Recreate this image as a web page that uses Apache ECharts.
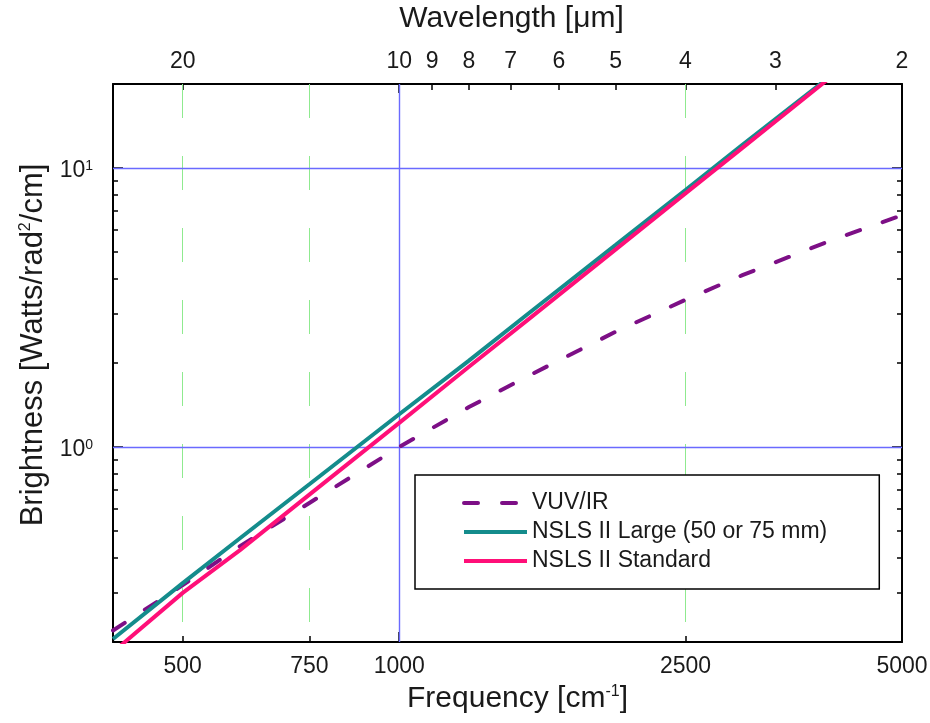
<!DOCTYPE html>
<html>
<head>
<meta charset="utf-8">
<title>Brightness vs frequency</title>
<script src="https://cdn.jsdelivr.net/npm/echarts@6/dist/echarts.min.js"></script>
<style>
  html, body { margin: 0; padding: 0; background: #fff; }
  #main { width: 930px; height: 723px; }
</style>
</head>
<body>
<div id="main"></div>
<script>
// frequency samples [cm^-1]
const freq = [400, 500, 600, 750, 1000, 1250, 1500, 2000, 2500, 3000, 4000, 5000]
// brightness [W/rad^2/cm]
const vuvIr = [0.22, 0.32, 0.44, 0.63, 1.0, 1.39, 1.78, 2.59, 3.37, 4.13, 5.52, 6.77]
const nslsLarge = [0.205, 0.325, 0.47, 0.735, 1.31, 2.04, 2.96, 5.3, 8.34, 12.1, 21.6, null]
const nslsStandard = [0.184, 0.30, 0.426, 0.675, 1.22, 1.94, 2.82, 5.11, 8.11, 11.8, 21.4, null]

// axis ticks
const freqLabels = [500, 750, 1000, 2500, 5000]
const freqMinorTicks = [500, 750, 2500, 5000]
const wavelengthLabels = [20, 10, 9, 8, 7, 6, 5, 4, 3, 2] // um
const brightnessMajor = [1, 10]
const brightnessMinor = [0.3, 0.4, 0.5, 0.6, 0.7, 0.8, 0.9, 2, 3, 4, 5, 6, 7, 8, 9]

// grid lines
const greenLinesX = [500, 750, 2500]
const blueLinesX = [1000]
const blueLinesY = [1, 10]

const xMin = 400
const xMax = 5000
const yMin = 0.2
const yMax = 20

const font = 'Liberation Sans, Arial, sans-serif'
const textColor = '#1a1a1a'
const colors = {
  vuv: '#7d0f86',
  large: '#148c8c',
  standard: '#ff0f78',
  green: '#8fea8f',
  blue: '#6a6aff'
}

function wlToFreq (wl) {
  return 10000 / wl
}

function tickStyle (len) {
  return { show: true, inside: true, length: len, lineStyle: { color: '#000', width: 1.5 } }
}

// a log axis sharing the plot scale, used to put ticks on every side
function xLog (pos, extra) {
  return Object.assign({
    type: 'log',
    logBase: 10,
    min: xMin,
    max: xMax,
    position: pos,
    axisLine: { show: false, onZero: false },
    axisLabel: { show: false },
    splitLine: { show: false }
  }, extra)
}

function yLog (pos, extra) {
  return Object.assign({
    type: 'log',
    logBase: 10,
    min: yMin,
    max: yMax,
    position: pos,
    axisLine: { show: false, onZero: false },
    axisLabel: { show: false },
    splitLine: { show: false }
  }, extra)
}

const axisLine = { show: true, onZero: false, lineStyle: { color: '#000', width: 2 } }
const labelFont = { fontSize: 23, color: textColor, fontFamily: font }
const supStyle = { fontSize: 16, fontFamily: font, color: textColor, verticalAlign: 'top' }

function nameFont (size, pad) {
  return {
    fontSize: size,
    color: textColor,
    fontFamily: font,
    padding: pad,
    rich: { sup: supStyle }
  }
}

const chart = echarts.init(document.getElementById('main'))

const gridMarks = []
greenLinesX.forEach(function (x) {
  gridMarks.push([
    { coord: [x, yMax], lineStyle: { color: colors.green, width: 1, type: [34, 38] } },
    { coord: [x, yMin] }
  ])
})
blueLinesX.forEach(function (x) {
  gridMarks.push({ xAxis: x, lineStyle: { color: colors.blue, width: 1.4, type: 'solid' } })
})
blueLinesY.forEach(function (y) {
  gridMarks.push({ yAxis: y, lineStyle: { color: colors.blue, width: 1.4, type: 'solid' } })
})

function pairs (vals) {
  return freq.map(function (f, i) { return [f, vals[i]] })
}

chart.setOption({
  animation: false,
  backgroundColor: '#fff',
  grid: {
    left: 113,
    right: 28,
    top: 84,
    bottom: 81,
    containLabel: false,
    outerBoundsMode: 'none'
  },
  legend: {
    orient: 'vertical',
    left: 415,
    top: 475,
    padding: [16, 52, 16, 47],
    itemGap: 5,
    itemWidth: 63,
    itemHeight: 14,
    borderColor: '#000',
    borderWidth: 1.5,
    borderRadius: 0,
    backgroundColor: '#fff',
    itemStyle: { opacity: 0 },
    lineStyle: { width: 4 },
    textStyle: { fontSize: 23, color: textColor, fontFamily: font, lineHeight: 24 },
    data: ['VUV/IR', 'NSLS II Large (50 or 75 mm)', 'NSLS II Standard']
  },
  xAxis: [
    xLog('bottom', {
      axisLine: axisLine,
      axisTick: Object.assign(tickStyle(6), { customValues: freqMinorTicks }),
      axisLabel: Object.assign({
        show: true,
        margin: 13,
        customValues: freqLabels,
        formatter: function (v) { return String(Math.round(v)) }
      }, labelFont),
      name: 'Frequency [cm{sup|-1}]',
      nameLocation: 'middle',
      nameGap: 42,
      nameTextStyle: nameFont(30, [0, 0, 0, 20])
    }),
    xLog('bottom', {
      axisTick: Object.assign(tickStyle(10), { customValues: [1000] })
    }),
    xLog('top', {
      axisLine: axisLine,
      axisTick: Object.assign(tickStyle(6), {
        customValues: wavelengthLabels.filter(function (w) { return w !== 10 }).map(wlToFreq)
      }),
      axisLabel: Object.assign({
        show: true,
        margin: 11,
        customValues: wavelengthLabels.map(wlToFreq),
        formatter: function (v) { return String(Math.round(10000 / v)) }
      }, labelFont),
      name: 'Wavelength [\u03bcm]',
      nameLocation: 'middle',
      nameGap: 50,
      nameTextStyle: nameFont(30, [0, 0, 0, 8])
    }),
    xLog('top', {
      axisTick: Object.assign(tickStyle(9), { customValues: [1000] })
    })
  ],
  yAxis: [
    yLog('left', {
      axisLine: axisLine,
      axisTick: Object.assign(tickStyle(10), { customValues: brightnessMajor }),
      axisLabel: Object.assign({
        show: true,
        margin: 20,
        padding: [6, 0, 0, 0],
        customValues: brightnessMajor,
        formatter: function (v) { return '10{sup|' + Math.round(Math.log10(v)) + '}' },
        rich: {
          sup: { fontSize: 14, fontFamily: font, color: textColor, verticalAlign: 'top' }
        }
      }, labelFont),
      name: 'Brightness [Watts/rad{sup|2}/cm]',
      nameLocation: 'middle',
      nameGap: 60,
      nameTextStyle: nameFont(31, [0, 0, 0, 36])
    }),
    yLog('left', {
      axisTick: Object.assign(tickStyle(5), { customValues: brightnessMinor })
    }),
    yLog('right', {
      axisLine: axisLine,
      axisTick: Object.assign(tickStyle(10), { customValues: brightnessMajor })
    }),
    yLog('right', {
      axisTick: Object.assign(tickStyle(5), { customValues: brightnessMinor })
    })
  ],
  series: [
    {
      name: 'VUV/IR',
      type: 'line',
      xAxisIndex: 0,
      yAxisIndex: 0,
      data: pairs(vuvIr),
      symbol: 'none',
      clip: true,
      z: 3,
      itemStyle: { color: colors.vuv },
      lineStyle: { color: colors.vuv, width: 4, type: [14, 24], cap: 'round' },
      markLine: {
        silent: true,
        z: 1,
        symbol: ['none', 'none'],
        label: { show: false },
        emphasis: { disabled: true },
        data: gridMarks
      }
    },
    {
      name: 'NSLS II Large (50 or 75 mm)',
      type: 'line',
      xAxisIndex: 0,
      yAxisIndex: 0,
      data: pairs(nslsLarge),
      symbol: 'none',
      clip: true,
      z: 4,
      itemStyle: { color: colors.large },
      lineStyle: { color: colors.large, width: 4 }
    },
    {
      name: 'NSLS II Standard',
      type: 'line',
      xAxisIndex: 0,
      yAxisIndex: 0,
      data: pairs(nslsStandard),
      symbol: 'none',
      clip: true,
      z: 5,
      itemStyle: { color: colors.standard },
      lineStyle: { color: colors.standard, width: 4 }
    }
  ]
})
</script>
</body>
</html>
